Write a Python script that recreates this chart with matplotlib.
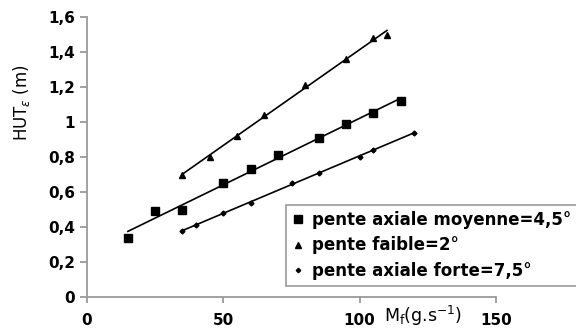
import matplotlib.pyplot as plt
import numpy as np

plt.rcParams['font.family'] = ['DejaVu Sans']
plt.rcParams['mathtext.fontset'] = 'dejavusans'

# pente axiale moyenne = 4,5 deg
x_moy = [15, 25, 35, 50, 60, 70, 85, 95, 105, 115]
y_moy = [0.34, 0.49, 0.50, 0.65, 0.73, 0.81, 0.91, 0.99, 1.05, 1.12]
# pente faible = 2 deg
x_faible = [35, 45, 55, 65, 80, 95, 105, 110]
y_faible = [0.70, 0.80, 0.92, 1.04, 1.21, 1.36, 1.48, 1.50]
# pente axiale forte = 7,5 deg
x_forte = [35, 40, 50, 60, 75, 85, 100, 105, 120]
y_forte = [0.38, 0.41, 0.48, 0.54, 0.65, 0.71, 0.80, 0.84, 0.94]

labels = ['pente axiale moyenne=4,5°', 'pente faible=2°', 'pente axiale forte=7,5°']
xticks = [0, 50, 100, 150]
yticks = [0, 0.2, 0.4, 0.6, 0.8, 1, 1.2, 1.4, 1.6]
ytick_labels = ['0', '0,2', '0,4', '0,6', '0,8', '1', '1,2', '1,4', '1,6']

fig = plt.figure(figsize=(5.76, 3.36), dpi=100)
ax = fig.add_axes([87/576, 1 - 297/336, (496 - 87)/576, (297 - 17)/336])

series = [(x_moy, y_moy, 's', 6), (x_faible, y_faible, '^', 5), (x_forte, y_forte, 'D', 2.5)]
handles = []
for (xs, ys, m, ms), lab in zip(series, labels):
    xs = np.array(xs); ys = np.array(ys)
    # linear trendline over the series range
    a, b = np.polyfit(xs, ys, 1)
    xl = np.array([xs.min(), xs.max()])
    ax.plot(xl, a * xl + b, color='black', lw=1.2, zorder=2)
    h, = ax.plot(xs, ys, ls='none', marker=m, ms=ms, color='black', zorder=3, label=lab)
    handles.append(h)

ax.set_xlim(0, 150)
ax.set_ylim(0, 1.6)
ax.set_xticks(xticks)
ax.set_yticks(yticks)
ax.set_yticklabels(ytick_labels)
for s in ['top', 'right']:
    ax.spines[s].set_visible(False)
for s in ['left', 'bottom']:
    ax.spines[s].set_color('#9a9a9a')
    ax.spines[s].set_linewidth(1.3)
ax.tick_params(colors='#9a9a9a', labelcolor='black', labelsize=11, width=1.3)
ax.tick_params(axis='y', length=5, pad=3.5)
ax.tick_params(axis='x', length=4.5, pad=7)
for t in ax.get_xticklabels() + ax.get_yticklabels():
    t.set_fontweight('bold')

fig.text(22/576, 1 - 103/336, r'HUT$_\varepsilon$ (m)', fontsize=12, rotation=90,
         ha='center', va='center')
fig.text(423/576, 1 - 316/336, r'M$_\mathrm{f}$(g.s$^{-1}$)', fontsize=12.5,
         ha='center', va='center')

leg = fig.legend(handles=handles, loc='upper left', bbox_to_anchor=(286/576, 1 - 205/336),
                 frameon=True, fancybox=False, edgecolor='#808080',
                 prop={'size': 12, 'weight': 'bold'},
                 handlelength=0.7, handletextpad=0.5, labelspacing=0.45, borderpad=0.35,
                 borderaxespad=0, markerscale=0.9)
leg.get_frame().set_linewidth(1.2)

fig.savefig('out.png', dpi=100)
